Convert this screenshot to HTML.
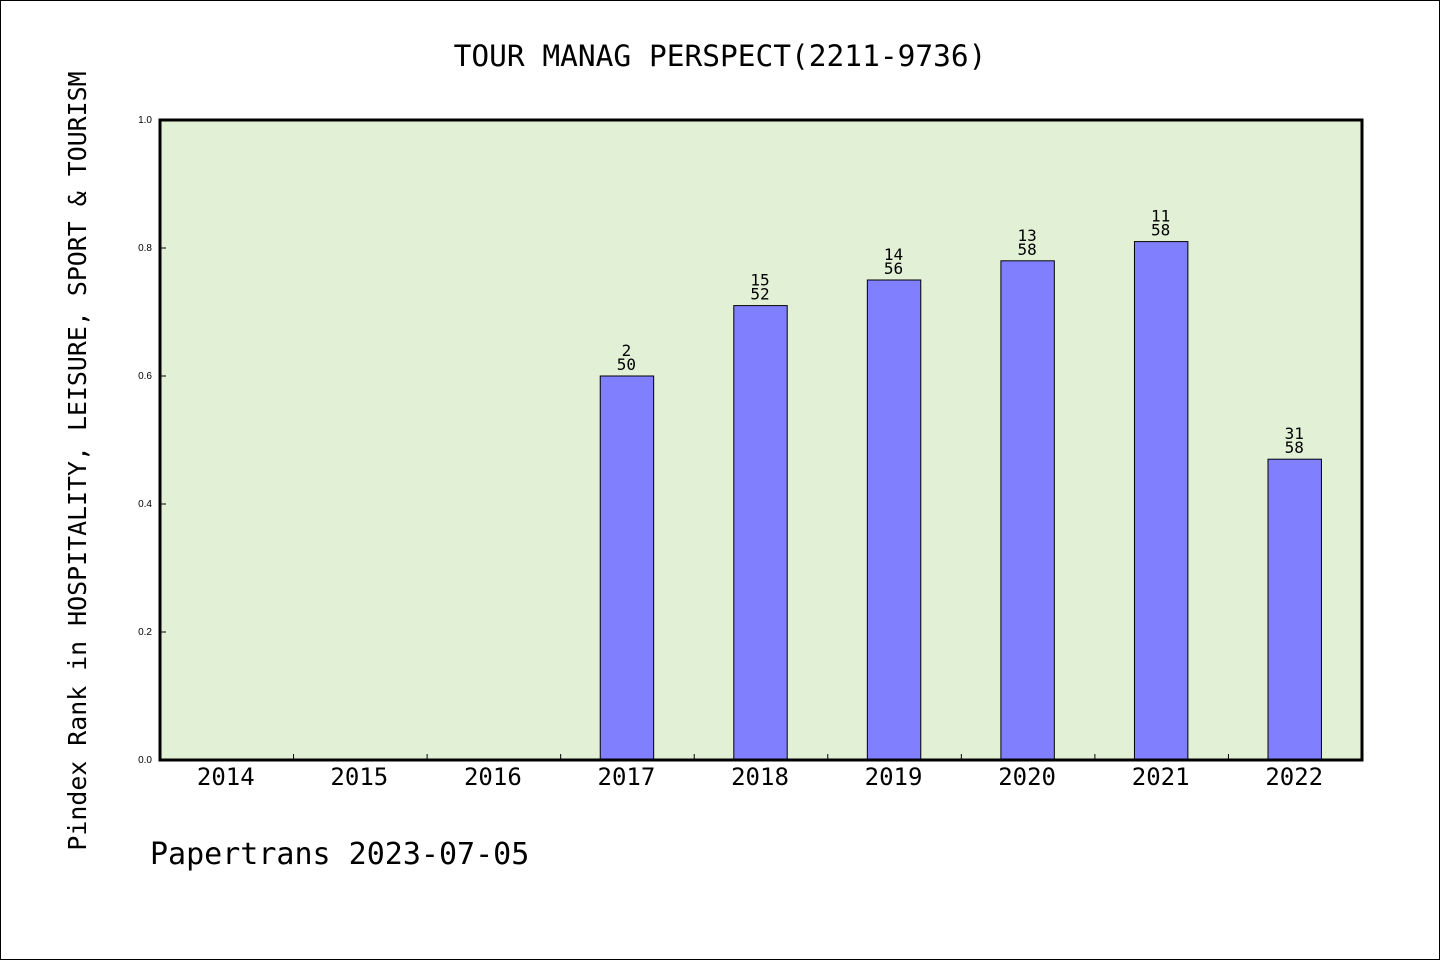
<!DOCTYPE html>
<html><head><meta charset="utf-8"><style>
html,body{margin:0;padding:0;background:#fff}
svg{display:block}
text{font-family:"DejaVu Sans Mono","Liberation Mono",monospace;fill:#000}
text.sans{font-family:"Liberation Sans",sans-serif}
</style></head><body>
<svg id="chart" width="1440" height="960">
<rect x="0.5" y="0.5" width="1439" height="959" fill="#fff" stroke="#000"/>
<text x="720" y="66" font-size="29.5" text-anchor="middle">TOUR MANAG PERSPECT(2211-9736)</text>
<text transform="translate(86,461) rotate(-90)" font-size="24.9" text-anchor="middle">Pindex Rank in HOSPITALITY, LEISURE, SPORT &amp; TOURISM</text>
<text x="150" y="864" font-size="30">Papertrans 2023-07-05</text>
<rect x="160" y="120" width="1202" height="640" fill="#e2f0d6"/>
<g id="bars"></g>
<g id="axes"></g>
<rect x="160" y="120" width="1202" height="640" fill="none" stroke="#000" stroke-width="3"/>
</svg>
<script>
const categories = ["2014","2015","2016","2017","2018","2019","2020","2021","2022"];
const values = [null,null,null,0.60,0.71,0.75,0.78,0.81,0.47];
const ranks = [null,null,null,"2","15","14","13","11","31"];
const totals = [null,null,null,"50","52","56","58","58","58"];
const yTicks = [0,0.2,0.4,0.6,0.8,1.0];
const yTickLabels = ["0.0","0.2","0.4","0.6","0.8","1.0"];

const X0=160,W=1202,Y0=760,H=640;
const band=W/categories.length;
const xc=i=>X0+band*(i+0.5);
const y=v=>Y0-v*H;
const NS="http://www.w3.org/2000/svg";
function mk(tag,attrs,parent){const e=document.createElementNS(NS,tag);for(const k in attrs)e.setAttribute(k,attrs[k]);parent.appendChild(e);return e;}
const bars=document.getElementById('bars'), axes=document.getElementById('axes');
const bw=band*0.4;
values.forEach((v,i)=>{
  if(v==null)return;
  const r=mk('rect',{x:xc(i)-bw/2-0.5,y:y(v),width:bw,height:Y0-y(v),fill:'#8080ff',stroke:'#000','stroke-width':1},bars);
  
  
  const t1=mk('text',{x:xc(i)-1,y:y(v)-20,'font-size':16,'text-anchor':'middle'},bars);t1.textContent=ranks[i];
  
  
  const t2=mk('text',{x:xc(i)-1,y:y(v)-6,'font-size':16,'text-anchor':'middle'},bars);t2.textContent=totals[i];
  
  
});
categories.forEach((c,i)=>{
  const t=mk('text',{x:xc(i)-1,y:785,'font-size':24,'text-anchor':'middle'},axes);t.textContent=c;
  
  
  if(i>0){const l=mk('line',{x1:X0+band*i,x2:X0+band*i,y1:Y0,y2:Y0-6,stroke:'#000','stroke-width':1},axes);
  
  }
});
yTicks.forEach((v,i)=>{
  const l=mk('line',{x1:X0,x2:X0+6,y1:y(v),y2:y(v),stroke:'#000','stroke-width':1},axes);
  
  
  const t=mk('text',{x:X0-8,y:y(v)+3,'font-size':10,'text-anchor':'end','class':'sans'},axes);t.textContent=yTickLabels[i];
  
  
});
</script>
</body></html>
